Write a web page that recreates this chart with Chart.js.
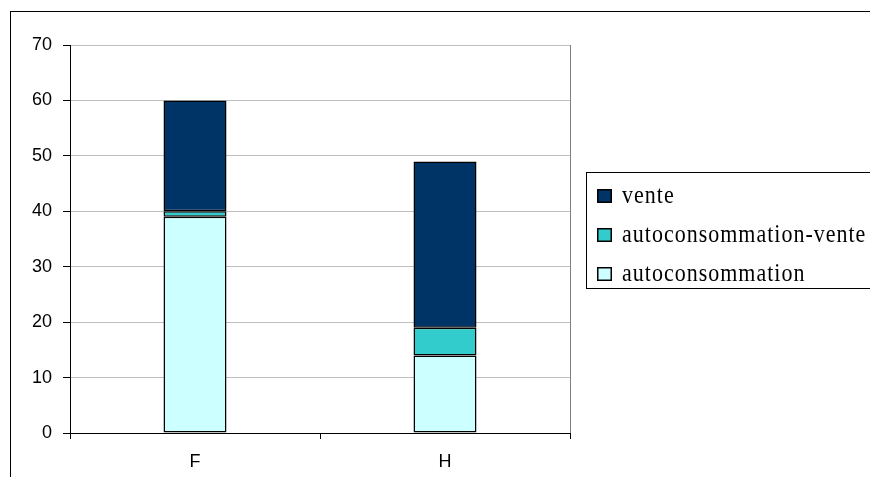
<!DOCTYPE html>
<html>
<head>
<meta charset="utf-8">
<script src="https://cdn.jsdelivr.net/npm/chart.js@4.4.1/dist/chart.umd.min.js"></script>
<style>
html,body{margin:0;padding:0;background:#fff;}
#wrap{position:relative;width:870px;height:477px;}
</style>
</head>
<body>
<div id="wrap"><canvas id="c" width="870" height="477"></canvas></div>
<script>
const categories = ['F', 'H'];
const autoconsommation = [39, 14];
const autoconsommationVente = [1, 5];
const vente = [20, 30];
const seriesLabels = ['autoconsommation', 'autoconsommation-vente', 'vente'];
const yTicks = [0, 10, 20, 30, 40, 50, 60, 70];

const frameAndLegend = {
  id: 'frameAndLegend',
  afterDraw(chart) {
    const ctx = chart.ctx;
    const a = chart.chartArea;
    ctx.save();
    // outer frame
    ctx.strokeStyle = '#000';
    ctx.lineWidth = 1;
    ctx.strokeRect(10.5, 11.5, 900, 500);
    // plot area right border
    ctx.strokeStyle = '#808080';
    ctx.beginPath();
    ctx.moveTo(Math.round(a.right) + 0.5, a.top);
    ctx.lineTo(Math.round(a.right) + 0.5, a.bottom);
    ctx.stroke();
    // legend box
    ctx.strokeStyle = '#000';
    ctx.strokeRect(586.5, 172.5, 400, 116);
    const ds = chart.data.datasets.slice().reverse();
    ds.forEach((d, i) => {
      const y = 189 + i * 39;
      ctx.fillStyle = d.backgroundColor;
      ctx.fillRect(597, y, 15, 14);
      ctx.strokeStyle = '#000';
      ctx.lineWidth = 1.5;
      ctx.strokeRect(597.75, y + 0.75, 13.5, 12.5);
      ctx.fillStyle = '#000';
      ctx.save();
      ctx.translate(622, y + 14);
      ctx.scale(1, 1.1);
      ctx.font = '22px "Liberation Serif", "Times New Roman", serif';
      if ('letterSpacing' in ctx) ctx.letterSpacing = '1px';
      ctx.textBaseline = 'alphabetic';
      ctx.fillText(d.label, 0, 0);
      ctx.restore();
    });
    ctx.restore();
  }
};

new Chart(document.getElementById('c'), {
  type: 'bar',
  data: {
    labels: categories,
    datasets: [
      { label: seriesLabels[0], data: autoconsommation, backgroundColor: '#CCFFFF' },
      { label: seriesLabels[1], data: autoconsommationVente, backgroundColor: '#33CCCC' },
      { label: seriesLabels[2], data: vente, backgroundColor: '#003366' }
    ].map(d => Object.assign(d, {
      borderColor: '#000', borderWidth: 1.5, borderSkipped: false,
      categoryPercentage: 1, barPercentage: 0.252
    }))
  },
  options: {
    responsive: false,
    animation: false,
    layout: { padding: { top: 45, right: 300, left: 0, bottom: 0 } },
    plugins: { legend: { display: false }, tooltip: { enabled: false } },
    scales: {
      x: {
        stacked: true,
        offset: true,
        afterFit(s) { s.height = 44; },
        grid: { offset: true, drawOnChartArea: false, tickLength: 6, tickColor: '#000' },
        border: { color: '#000', width: 1 },
        ticks: { color: '#000', font: { family: 'Liberation Sans, Arial, sans-serif', size: 18 }, padding: 12 }
      },
      y: {
        stacked: true,
        min: 0, max: 70,
        afterFit(s) { s.width = 70; },
        afterBuildTicks(s) { s.ticks = yTicks.map(v => ({ value: v })); },
        grid: { color: '#c0c0c0', tickLength: 7, tickColor: '#000' },
        border: { color: '#000', width: 1 },
        ticks: { color: '#000', font: { family: 'Liberation Sans, Arial, sans-serif', size: 18 }, padding: 11 }
      }
    }
  },
  plugins: [frameAndLegend]
});
</script>
</body>
</html>
